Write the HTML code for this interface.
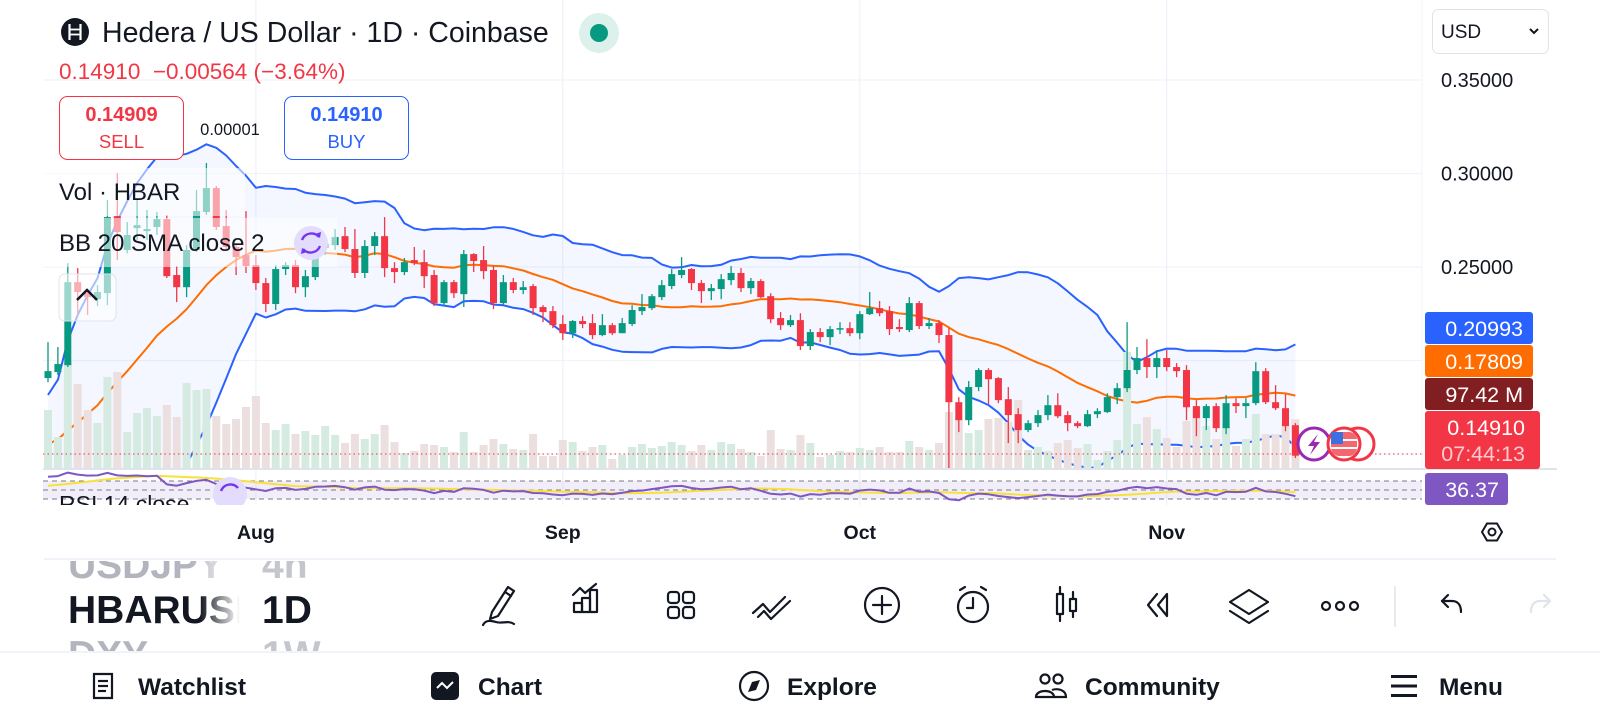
<!DOCTYPE html>
<html><head><meta charset="utf-8"><title>HBARUSD chart</title>
<style>
html,body{margin:0;padding:0;background:#fff;}
body{width:1600px;height:720px;overflow:hidden;font-family:"Liberation Sans",sans-serif;}
svg{display:block;}
text{font-family:"Liberation Sans",sans-serif;}
</style></head>
<body>
<svg id="root" width="1600" height="720" viewBox="0 0 1600 720" xmlns="http://www.w3.org/2000/svg">
<defs>
  <clipPath id="paneClip"><rect x="43" y="60" width="1379" height="409"/></clipPath>
  <clipPath id="rsiClip"><rect x="43" y="470" width="1379" height="35"/></clipPath>
  <clipPath id="symClip"><rect x="0" y="561" width="440" height="91"/></clipPath>
  <linearGradient id="fadeText" gradientUnits="userSpaceOnUse" x1="200" x2="240" y1="0" y2="0">
    <stop offset="0" stop-color="#131722"/><stop offset="1" stop-color="#131722" stop-opacity="0"/>
  </linearGradient>
  <linearGradient id="fadeGray" gradientUnits="userSpaceOnUse" x1="190" x2="240" y1="0" y2="0">
    <stop offset="0" stop-color="#b2b5be"/><stop offset="1" stop-color="#b2b5be" stop-opacity="0"/>
  </linearGradient>
</defs>

<g id="grid"></g>
<g id="bbLayer" clip-path="url(#paneClip)"></g>
<g id="volLayer" clip-path="url(#paneClip)"></g>
<g id="candleLayer" clip-path="url(#paneClip)"></g>

<line id="lastLine" x1="43" x2="1422" y1="454" y2="454" stroke="#f23645" stroke-width="1" stroke-dasharray="1.5 3"/>

<rect x="43" y="168" width="202" height="48" fill="#fff" fill-opacity="0.55"/>
<text x="59" y="200" font-size="24" fill="#131722">Vol · HBAR</text>
<rect x="43" y="218" width="294" height="49" fill="#fff" fill-opacity="0.55"/>
<text x="59" y="251" font-size="24" fill="#131722">BB 20 SMA close 2</text>
<g>
  <circle cx="311" cy="243" r="17" fill="#e3dcfc"/>
  <path d="M302 240 A10 10 0 0 1 319 237" fill="none" stroke="#7434f0" stroke-width="2.4"/>
  <path d="M320 246 A10 10 0 0 1 303 249" fill="none" stroke="#7434f0" stroke-width="2.4"/>
  <path d="M315 234 L320 238 L321 232 Z" fill="#7434f0"/>
  <path d="M307 252 L302 248 L301 254 Z" fill="#7434f0"/>
</g>
<g>
  <rect x="59" y="274" width="57" height="47" rx="6" fill="#fff" fill-opacity="0.6" stroke="#e0e3eb"/>
  <path d="M77 300 L87 290 L97 300" fill="none" stroke="#131722" stroke-width="2.5"/>
</g>

<g>
  <circle cx="75" cy="32" r="14" fill="#131722"/>
  <line x1="69.5" y1="24" x2="69.5" y2="40" stroke="#fff" stroke-width="2.2"/>
  <line x1="80.5" y1="24" x2="80.5" y2="40" stroke="#fff" stroke-width="2.2"/>
  <line x1="69" y1="29.5" x2="81" y2="29.5" stroke="#fff" stroke-width="1.8"/>
  <line x1="69" y1="34.5" x2="81" y2="34.5" stroke="#fff" stroke-width="1.8"/>
  <text x="102" y="42" font-size="28.5" fill="#131722">Hedera / US Dollar · 1D · Coinbase</text>
</g>
<g>
  <circle cx="599" cy="33" r="20" fill="#dcf1ec"/>
  <circle cx="599" cy="33" r="9" fill="#089981"/>
</g>
<text x="59" y="79" font-size="22.5" fill="#f23645" xml:space="preserve">0.14910  −0.00564 (−3.64%)</text>
<g>
  <rect x="59.5" y="96.5" width="124" height="63" rx="8" fill="#fff" stroke="#f23645"/>
  <text x="121.5" y="121" font-size="20" font-weight="bold" fill="#f23645" text-anchor="middle">0.14909</text>
  <text x="121.5" y="148" font-size="18.5" fill="#f23645" text-anchor="middle">SELL</text>
</g>
<text x="230" y="135" font-size="16.5" fill="#131722" text-anchor="middle">0.00001</text>
<g>
  <rect x="284.5" y="96.5" width="124" height="63" rx="8" fill="#fff" stroke="#2962ff"/>
  <text x="346.5" y="121" font-size="20" font-weight="bold" fill="#2962ff" text-anchor="middle">0.14910</text>
  <text x="346.5" y="148" font-size="18.5" fill="#2962ff" text-anchor="middle">BUY</text>
</g>
<g>
  <rect x="1432.5" y="9.5" width="116" height="44" rx="6" fill="#fff" stroke="#e0e3eb"/>
  <text x="1441" y="38" font-size="19" fill="#131722">USD</text>
  <path d="M1530 29 L1534 33 L1538 29" fill="none" stroke="#131722" stroke-width="2"/>
</g>

<line x1="1422" y1="0" x2="1422" y2="469" stroke="#f0f3fa" stroke-width="1"/>
<line x1="43" y1="469" x2="1557" y2="469" stroke="#e0e3eb" stroke-width="2"/>

<g id="priceAxis"></g>

<g id="rsiLayer" clip-path="url(#rsiClip)"></g>
<g clip-path="url(#rsiClip)">
<text x="59" y="512" font-size="23" fill="#131722">RSI 14 close</text>
<g>
  <circle cx="230" cy="494" r="17" fill="#e3dcfc"/>
  <path d="M221 491 A10 10 0 0 1 238 488" fill="none" stroke="#7434f0" stroke-width="2.4"/>
</g>
</g>

<g>
  <rect x="1425" y="312" width="108" height="32" rx="3" fill="#2962ff"/>
  <text x="1523" y="336" font-size="21.5" fill="#fff" text-anchor="end">0.20993</text>
</g>
<g>
  <rect x="1425" y="345" width="108" height="32" rx="3" fill="#ff6d00"/>
  <text x="1523" y="369" font-size="21.5" fill="#fff" text-anchor="end">0.17809</text>
</g>
<g>
  <rect x="1425" y="378" width="108" height="32" rx="3" fill="#801e22"/>
  <text x="1523" y="402" font-size="21.5" fill="#fff" text-anchor="end">97.42 M</text>
</g>
<g>
  <rect x="1425" y="411" width="115" height="58" rx="3" fill="#f23645"/>
  <text x="1525" y="435" font-size="21.5" fill="#fff" text-anchor="end">0.14910</text>
  <text x="1525" y="461" font-size="21.5" fill="#fdd" fill-opacity="0.9" text-anchor="end">07:44:13</text>
</g>
<g>
  <rect x="1425" y="473" width="83" height="32" rx="3" fill="#7e57c2"/>
  <text x="1499" y="497" font-size="21.5" fill="#fff" text-anchor="end">36.37</text>
</g>

<g>
  <circle cx="1314" cy="444" r="16" fill="#fff" stroke="#9c27b0" stroke-width="3"/>
  <path d="M1318 434 L1308 446 L1314 446 L1310 455 L1320 442 L1314 442 Z" fill="#9c27b0"/>
  <circle cx="1358" cy="444" r="16" fill="#fff" stroke="#f23645" stroke-width="3"/>
  <circle cx="1344" cy="444" r="16" fill="#fff" stroke="#f23645" stroke-width="3"/>
  <rect x="1331" y="432" width="26" height="24" rx="8" fill="#f4676f"/>
  <rect x="1331" y="432" width="12" height="12" fill="#3c6fe0"/>
  <line x1="1343" y1="440" x2="1357" y2="440" stroke="#fff" stroke-width="2"/>
  <line x1="1331" y1="448" x2="1357" y2="448" stroke="#fff" stroke-width="2"/>
</g>

<g id="timeAxis"></g>
<g>
  <path d="M1482 532 L1487 523.5 L1497 523.5 L1502 532 L1497 540.5 L1487 540.5 Z" fill="none" stroke="#131722" stroke-width="2"/>
  <circle cx="1492" cy="532" r="3.5" fill="none" stroke="#131722" stroke-width="2"/>
</g>
<line x1="44" y1="559" x2="1556" y2="559" stroke="#f0f3fa" stroke-width="2"/>

<g clip-path="url(#symClip)">
  <text x="68" y="578" font-size="39" font-weight="bold" fill="url(#fadeGray)">USDJPY</text>
  <text x="262" y="578" font-size="39" font-weight="bold" fill="#c4c6cc">4h</text>
  <text x="68" y="623" font-size="39" font-weight="bold" fill="url(#fadeText)">HBARUSD</text>
  <text x="262" y="623" font-size="39" font-weight="bold" fill="#131722">1D</text>
  <text x="68" y="668" font-size="39" font-weight="bold" fill="url(#fadeGray)">DXY</text>
  <text x="262" y="668" font-size="39" font-weight="bold" fill="#c4c6cc">1W</text>
</g>

<g fill="none" stroke="#131722" stroke-width="2.2" stroke-linejoin="round" stroke-linecap="round">
  <g>
    <path d="M492 612 L508 587 L514 591 L498 616 L490 619 Z"/><line x1="505" y1="592" x2="511" y2="596"/>
    <path d="M483 625 C486 619 492 621 496 622 C502 624 508 620 514 624"/>
  </g>
  <g>
    <rect x="574" y="603" width="8" height="9"/><rect x="582" y="598" width="8" height="14"/><rect x="590" y="590" width="7" height="22"/>
    <path d="M573 595 L580 588 L585 593 L596 584"/>
  </g>
  <g>
    <rect x="668" y="592" width="11" height="11" rx="3"/><rect x="683" y="592" width="11" height="11" rx="3"/>
    <rect x="668" y="607" width="11" height="11" rx="3"/><rect x="683" y="607" width="11" height="11" rx="3"/>
  </g>
  <g>
    <path d="M753 613 L763 604 L770 612 L785 597"/><path d="M758 617 L764 611 L771 619 L790 601"/>
  </g>
  <g>
    <circle cx="882" cy="605" r="17"/><line x1="882" y1="596" x2="882" y2="614"/><line x1="873" y1="605" x2="891" y2="605"/>
  </g>
  <g>
    <circle cx="973" cy="607" r="15"/><path d="M973 598 L973 608 L967 608"/><path d="M960 590 L965 587"/><path d="M986 590 L981 587"/>
  </g>
  <g>
    <rect x="1057" y="594" width="6" height="20"/><line x1="1060" y1="587" x2="1060" y2="594"/><line x1="1060" y1="614" x2="1060" y2="621"/>
    <rect x="1070" y="599" width="6" height="12"/><line x1="1073" y1="592" x2="1073" y2="599"/><line x1="1073" y1="611" x2="1073" y2="617"/>
  </g>
  <g>
    <path d="M1157 594 L1148 605 L1157 616"/><path d="M1167 594 L1158 605 L1167 616 Z"/>
  </g>
  <g>
    <path d="M1249 590 L1268 602 L1249 614 L1230 602 Z"/><path d="M1230 611 L1249 623 L1268 611"/>
  </g>
  <g>
    <circle cx="1326" cy="606" r="4"/><circle cx="1340" cy="606" r="4"/><circle cx="1354" cy="606" r="4"/>
  </g>
  <g>
    <path d="M1442 601 L1448 595"/><path d="M1442 601 L1448 607"/><path d="M1442 601 L1452 601 C1458 601 1461 605 1461 612"/>
  </g>
  <g stroke="#e0e3eb">
    <path d="M1550 601 L1544 595"/><path d="M1550 601 L1544 607"/><path d="M1550 601 L1540 601 C1534 601 1531 605 1531 612"/>
  </g>
</g>
<line x1="1395" y1="586" x2="1395" y2="627" stroke="#e0e3eb" stroke-width="1.5"/>

<line x1="0" y1="652" x2="1600" y2="652" stroke="#f0f3fa" stroke-width="2"/>

<g>
  <g fill="none" stroke="#131722" stroke-width="2.2">
    <path d="M94 674 L112 674 L112 698 L94 698 Z"/><line x1="98" y1="681" x2="108" y2="681"/><line x1="98" y1="686" x2="108" y2="686"/><line x1="98" y1="691" x2="106" y2="691"/>
  </g>
  <text x="138" y="695" font-size="24.5" font-weight="bold" fill="#131722">Watchlist</text>
</g>
<g>
  <rect x="431" y="672" width="28" height="28" rx="5" fill="#131722"/>
  <path d="M437 688 L442 683 L447 688 L453 682" fill="none" stroke="#fff" stroke-width="2"/>
  <text x="478" y="695" font-size="24.5" font-weight="bold" fill="#131722">Chart</text>
</g>
<g>
  <circle cx="754" cy="686" r="14" fill="none" stroke="#131722" stroke-width="2.2"/>
  <path d="M760 680 L756 690 L748 692 L752 682 Z" fill="#131722"/>
  <text x="787" y="695" font-size="24.5" font-weight="bold" fill="#131722">Explore</text>
</g>
<g>
  <g fill="none" stroke="#131722" stroke-width="2.2">
    <circle cx="1045" cy="679" r="4.5"/><circle cx="1058" cy="679" r="4.5"/>
    <path d="M1036 697 C1036 689 1054 689 1054 697 Z"/><path d="M1052 690 C1058 688 1066 690 1066 697 L1054 697"/>
  </g>
  <text x="1085" y="695" font-size="24.5" font-weight="bold" fill="#131722">Community</text>
</g>
<g>
  <rect x="1391" y="675" width="26" height="3" fill="#131722"/><rect x="1391" y="684.5" width="26" height="3" fill="#131722"/><rect x="1391" y="694" width="26" height="3" fill="#131722"/>
  <text x="1439" y="695" font-size="24.5" font-weight="bold" fill="#131722">Menu</text>
</g>
</svg>

<script>
const opens=[.1906,.1938,.1975,.2419,.2360,.2328,.2360,.2772,.2591,.2708,.2692,.2714,.2756,.2457,.2392,.2591,.2794,.2922,.2719,.2607,.2564,.2510,.2414,.2302,.2489,.2510,.2392,.2446,.2601,.2617,.2665,.2596,.2468,.2612,.2665,.2494,.2473,.2537,.2526,.2457,.2307,.2419,.2355,.2569,.2537,.2484,.2307,.2419,.2377,.2398,.2286,.2264,.2195,.2146,.2211,.2200,.2136,.2189,.2146,.2195,.2264,.2280,.2339,.2398,.2457,.2489,.2414,.2371,.2382,.2430,.2468,.2387,.2425,.2344,.2227,.2189,.2216,.2077,.2152,.2125,.2168,.2173,.2146,.2248,.2280,.2264,.2179,.2163,.2307,.2184,.2200,.2136,.1777,.1681,.1858,.1949,.1906,.1793,.1713,.1628,.1665,.1708,.1761,.1708,.1665,.1649,.1713,.1724,.1804,.1852,.1949,.2013,.1965,.2013,.1965,.1949,.1756,.1692,.1756,.1638,.1772,.1756,.1772,.1943,.1777,.1745,.1654];
const highs=[.2098,.2072,.2521,.2494,.2377,.2403,.2858,.3003,.2740,.2858,.2805,.2794,.2778,.2505,.2617,.2912,.3056,.2933,.2805,.2617,.2799,.2564,.2441,.2510,.2526,.2537,.2484,.2671,.2655,.2703,.2714,.2703,.2644,.2687,.2767,.2526,.2548,.2607,.2591,.2484,.2430,.2430,.2591,.2574,.2612,.2505,.2457,.2441,.2425,.2409,.2296,.2291,.2243,.2216,.2237,.2248,.2248,.2200,.2227,.2296,.2355,.2355,.2430,.2489,.2553,.2494,.2430,.2409,.2462,.2505,.2494,.2441,.2435,.2360,.2259,.2243,.2253,.2168,.2173,.2184,.2205,.2205,.2264,.2366,.2318,.2291,.2221,.2339,.2318,.2227,.2216,.2173,.1804,.1890,.1959,.1959,.1911,.1858,.1745,.1681,.1735,.1815,.1825,.1729,.1676,.1735,.1745,.1825,.1879,.2205,.2072,.2114,.2056,.2056,.1986,.1975,.1788,.1767,.1772,.1815,.1799,.1799,.1991,.1959,.1868,.1820,.1665];
const lows=[.1884,.1922,.1965,.2243,.2243,.2291,.2296,.2537,.2574,.2644,.2644,.2671,.2441,.2312,.2339,.2580,.2778,.2698,.2591,.2457,.2468,.2377,.2259,.2270,.2457,.2360,.2339,.2430,.2564,.2591,.2580,.2441,.2441,.2564,.2446,.2414,.2457,.2510,.2387,.2291,.2291,.2334,.2286,.2473,.2435,.2275,.2296,.2360,.2355,.2243,.2205,.2173,.2109,.2120,.2173,.2114,.2130,.2136,.2146,.2184,.2243,.2270,.2323,.2382,.2441,.2377,.2307,.2323,.2328,.2403,.2366,.2355,.2334,.2200,.2163,.2179,.2056,.2056,.2098,.2082,.2141,.2130,.2114,.2243,.2237,.2136,.2152,.2152,.2168,.2168,.2093,.1414,.1617,.1654,.1836,.1767,.1772,.1558,.1558,.1617,.1644,.1681,.1692,.1622,.1638,.1644,.1692,.1719,.1767,.1831,.1927,.1906,.1906,.1943,.1911,.1681,.1595,.1628,.1617,.1606,.1719,.1692,.1761,.1767,.1735,.1622,.1478];
const closes=[.1943,.1981,.2419,.2366,.2339,.2366,.2767,.2687,.2671,.2724,.2703,.2756,.2451,.2392,.2591,.2799,.2922,.2714,.2607,.2553,.2505,.2414,.2302,.2489,.2510,.2392,.2451,.2601,.2623,.2660,.2596,.2468,.2612,.2665,.2494,.2473,.2526,.2521,.2451,.2307,.2419,.2360,.2569,.2532,.2478,.2307,.2419,.2377,.2392,.2280,.2259,.2189,.2146,.2211,.2195,.2136,.2189,.2146,.2200,.2270,.2286,.2344,.2403,.2462,.2484,.2414,.2371,.2387,.2435,.2468,.2387,.2425,.2339,.2221,.2189,.2216,.2077,.2152,.2125,.2168,.2173,.2146,.2248,.2280,.2253,.2168,.2168,.2307,.2184,.2200,.2136,.1777,.1681,.1858,.1949,.1900,.1788,.1708,.1628,.1665,.1708,.1761,.1702,.1665,.1649,.1713,.1729,.1804,.1852,.1949,.2013,.1965,.2013,.1965,.1943,.1750,.1692,.1756,.1638,.1772,.1756,.1772,.1943,.1777,.1745,.1649,.1491];
const volumes=[116,62,212,168,116,90,182,192,72,110,120,104,126,102,170,156,158,104,88,98,122,144,90,76,88,68,74,66,84,66,50,68,58,68,86,52,30,34,48,46,42,32,72,32,46,58,48,38,36,68,24,24,56,52,34,42,46,18,26,42,48,40,44,52,46,34,46,36,52,48,38,32,24,76,38,36,66,50,22,26,34,32,40,36,42,32,32,54,42,36,50,112,96,70,76,98,100,92,136,36,42,34,50,56,40,48,16,34,56,232,88,102,78,60,42,94,124,84,58,90,44,58,108,68,68,90,97.42];
const preCloses=[.148,.146,.150,.145,.143,.147,.149,.152,.148,.146,.144,.149,.153,.158,.155,.160,.166,.173,.180];
const priceTicks=[0.35,0.30,0.25,0.20,0.15];
const priceTickLabels=['0.35000','0.30000','0.25000','',''];
const dateLabels=['Aug','Sep','Oct','Nov'];
const dateIndex=[21,52,82,113];

const NS='http://www.w3.org/2000/svg';
function xOf(i){return 48+i*9.9;}
function yOf(p){return 80+(0.35-p)*1870;}
function yVol(v){return 468-v*0.5;}
function yRsi(r){return 490-(r-50)*0.45;}
function mk(tag,attrs,parent){const e=document.createElementNS(NS,tag);for(const k in attrs)e.setAttribute(k,attrs[k]);parent.appendChild(e);return e;}

const grid=document.getElementById('grid');
priceTicks.forEach(function(p){
  const l=mk('line',{x1:43,x2:1422,y1:yOf(p),y2:yOf(p),stroke:'#f0f3fa','stroke-width':1.3},grid);
  
  
});
dateIndex.forEach(function(d){
  const l=mk('line',{x1:xOf(d),x2:xOf(d),y1:0,y2:505,stroke:'#f0f3fa','stroke-width':1.3},grid);
  
  
});

const pAxis=document.getElementById('priceAxis');
priceTicks.forEach(function(p,k){
  if(!priceTickLabels[k])return;
  const t=mk('text',{x:1441,y:yOf(p)+7,'font-size':20,fill:'#131722'},pAxis);
  t.textContent=priceTickLabels[k];
  
  
});
const tAxis=document.getElementById('timeAxis');
dateLabels.forEach(function(lab,k){
  const t=mk('text',{x:xOf(dateIndex[k]),y:539,'font-size':19.5,'font-weight':'bold',fill:'#131722','text-anchor':'middle'},tAxis);
  t.textContent=lab;
  
  
});

const all=preCloses.concat(closes);
const off=preCloses.length;
const mid=[],up=[],lo=[];
for(let i=0;i<closes.length;i++){
  const j=i+off;const s=Math.max(0,j-19);const w=all.slice(s,j+1);
  const m=w.reduce((a,b)=>a+b,0)/w.length;
  const sd=Math.sqrt(w.reduce((a,b)=>a+(b-m)*(b-m),0)/w.length);
  mid.push(m);up.push(m+2*sd);lo.push(m-2*sd);
}
const bb=document.getElementById('bbLayer');
let fillD='M'+closes.map((c,i)=>xOf(i)+','+yOf(up[i])).join(' L');
for(let i=closes.length-1;i>=0;i--)fillD+=' L'+xOf(i)+','+yOf(lo[i]);
const bf=mk('path',{d:fillD+' Z',fill:'#2962ff','fill-opacity':0.05},bb);


function line(arr,color,name,yf,parent,w){
  const d='M'+arr.map((v,i)=>xOf(i).toFixed(1)+','+yf(v).toFixed(1)).join(' L');
  const p=mk('path',{d:d,fill:'none',stroke:color,'stroke-width':w||2,'stroke-linejoin':'round'},parent);
  
  
}

const vl=document.getElementById('volLayer');
volumes.forEach(function(v,i){
  const g=closes[i]>=opens[i];
  const r=mk('rect',{x:xOf(i)-4,y:yVol(v),width:8,height:468-yVol(v),fill:g?'#d5ebe1':'#ebdfe0'},vl);
  
  
});

line(up,'#2962ff','bb-upper',yOf,bb,2);
line(lo,'#2962ff','bb-lower',yOf,bb,2);
line(mid,'#ff6d00','bb-basis',yOf,bb,2);

const cl=document.getElementById('candleLayer');
closes.forEach(function(c,i){
  const o=opens[i];const g=c>=o;const col=g?'#089981':'#f23645';
  const x=xOf(i);
  const w=mk('line',{x1:x,x2:x,y1:yOf(highs[i]),y2:yOf(lows[i]),stroke:col,'stroke-width':1.3},cl);
  
  
  const top=yOf(Math.max(o,c));const h=Math.max(1.5,yOf(Math.min(o,c))-top);
  const b=mk('rect',{x:x-3.5,y:top,width:7,height:h,fill:col},cl);
  
  
});

const rsiL=document.getElementById('rsiLayer');
const bg=mk('rect',{x:43,y:yRsi(70),width:1379,height:yRsi(30)-yRsi(70),fill:'#7e57c2','fill-opacity':0.1},rsiL);


[70,50,30].forEach(function(lv){
  const l=mk('line',{x1:43,x2:1422,y1:yRsi(lv),y2:yRsi(lv),stroke:'#787b86','stroke-width':1,'stroke-dasharray':'5 4'},rsiL);
  
  
});
let ag=0,al=0;const rsiAll=[];
for(let j=1;j<all.length;j++){
  const d=all[j]-all[j-1];const gn=Math.max(d,0),ls=Math.max(-d,0);
  if(j<=14){ag+=gn/14;al+=ls/14;}else{ag=(ag*13+gn)/14;al=(al*13+ls)/14;}
  rsiAll.push(al===0?100:100-100/(1+ag/al));
}
const rsi=rsiAll.slice(off-1);
const rsiMa=rsi.map(function(v,i){const k=i+off-1;const s=Math.max(0,k-13);const w=rsiAll.slice(s,k+1);return w.reduce((a,b)=>a+b,0)/w.length;});
line(rsiMa,'#f7e13a','rsi-ma',yRsi,rsiL,2);
line(rsi,'#7e57c2','rsi-line',yRsi,rsiL,2);
</script>
</body></html>
